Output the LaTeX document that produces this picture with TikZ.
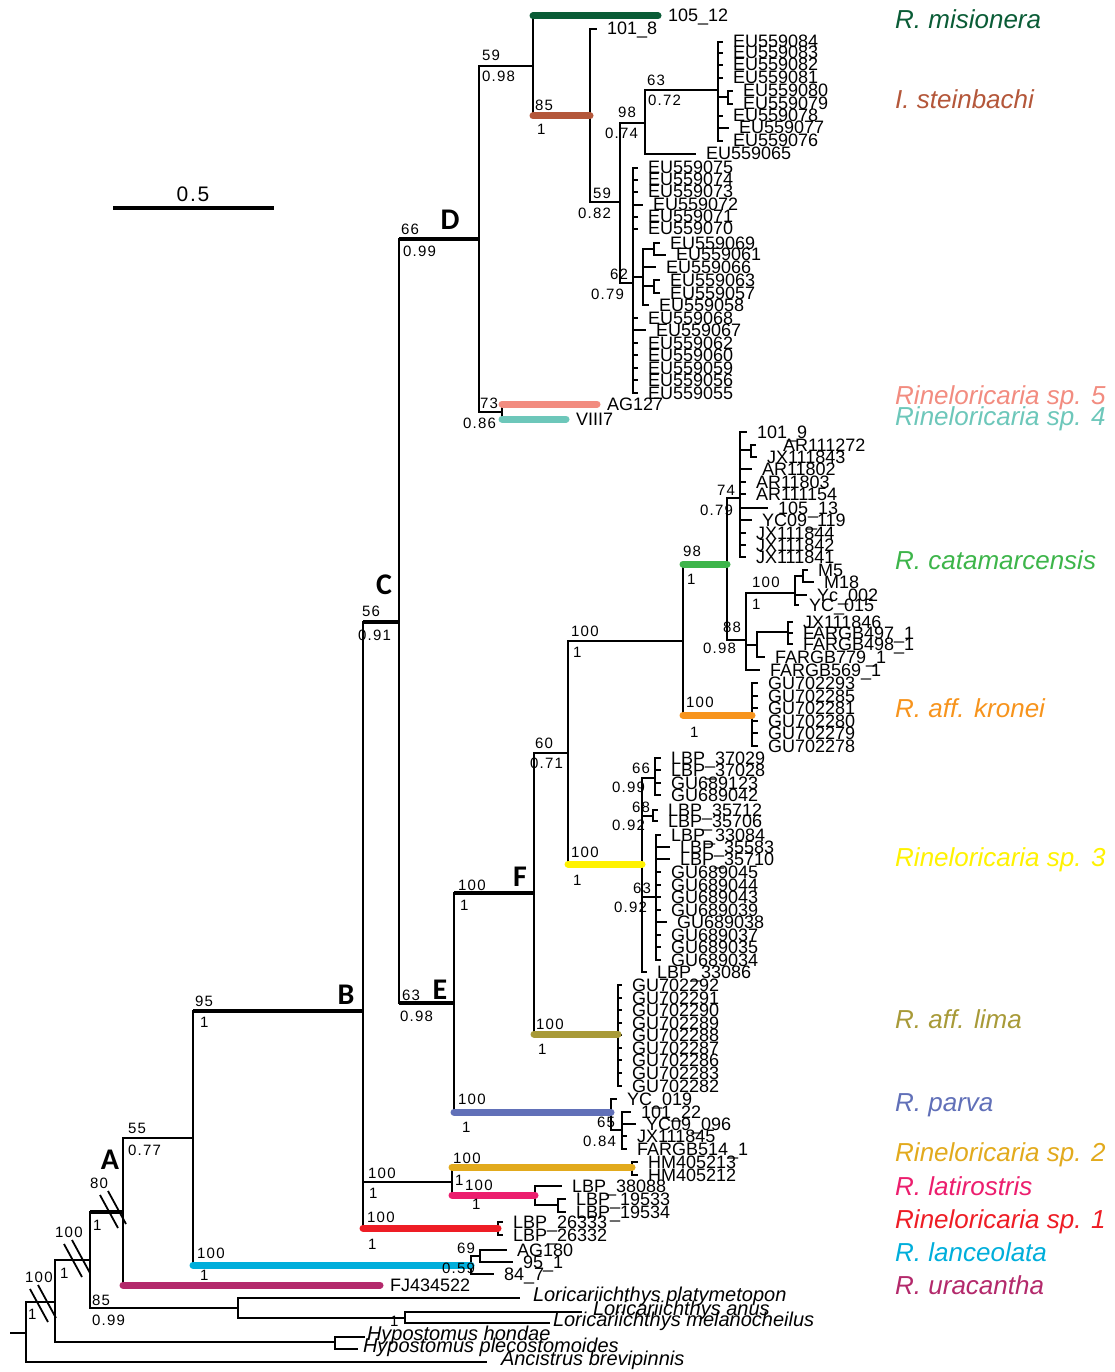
\documentclass[tikz,border=0pt]{standalone}
\usepackage{fontspec}
\setmainfont{Liberation Sans}
\newfontfamily\supfam[LetterSpace=8]{Liberation Sans}
\newfontfamily\letfam{Carlito}

\definecolor{cMis}{HTML}{0A5C36}
\definecolor{cSte}{HTML}{B4573A}
\definecolor{cSpf}{HTML}{F28C80}
\definecolor{cSpv}{HTML}{6DC7BA}
\definecolor{cCat}{HTML}{3DB54A}
\definecolor{cKro}{HTML}{F7941D}
\definecolor{cSpt}{HTML}{FFF200}
\definecolor{cLim}{HTML}{A89A38}
\definecolor{cPar}{HTML}{6170B8}
\definecolor{cSpd}{HTML}{E2AA1D}
\definecolor{cLat}{HTML}{EC1E6E}
\definecolor{cSpo}{HTML}{EE1D25}
\definecolor{cLan}{HTML}{00AEDB}
\definecolor{cUra}{HTML}{B3296B}

\begin{document}
\begin{tikzpicture}[
    x=1pt, y=-1pt,
    edge/.style={line width=1.8pt},
    stem/.style={line width=3.8pt},
    clade/.style={line width=7pt, line cap=round},
    brk/.style={line width=1.8pt},
    leaf/.style={anchor=west, inner sep=0pt, outer xsep=10pt, text height=12pt, text depth=0pt, font=\fontsize{18}{18}\selectfont},
    outg/.style={leaf, text height=6pt, font=\fontsize{20}{20}\selectfont\itshape},
    boot/.style={anchor=west, inner sep=0pt, text height=11pt, text depth=0pt, font=\supfam\fontsize{15}{15}\selectfont},
    big/.style={inner sep=0pt, font=\letfam\bfseries\fontsize{30}{30}\selectfont},
    spname/.style={anchor=west, inner sep=0pt, text height=18pt, text depth=0pt, font=\fontsize{26}{26}\selectfont\itshape}
]
\useasboundingbox (0,0) rectangle (1115,1372);

% Internal nodes
\coordinate (r0) at (10,1333);
\coordinate (nR) at (26,1333);
\coordinate (n55) at (55,1302);
\coordinate (nA) at (90,1260);
\coordinate (n123) at (123,1212);
\coordinate (n193) at (193,1138);
\coordinate (nB) at (363,1011);
\coordinate (nC) at (399,622);
\coordinate (nD) at (479,239);
\coordinate (nE) at (454,1003);
\coordinate (nF) at (534,893);
\coordinate (n59) at (533,66);
\coordinate (n85) at (590,116);
\coordinate (n59b) at (620,202);
\coordinate (n98) at (645,123);
\coordinate (n63a) at (718,90);
\coordinate (nb80) at (728,97);
\coordinate (n62) at (633,283);
\coordinate (nsub) at (643,277);
\coordinate (nb69) at (654,249);
\coordinate (nb63) at (654,286);
\coordinate (n73) at (502,412);
\coordinate (n60) at (568,753);
\coordinate (n100) at (683,641);
\coordinate (n98c) at (727,564);
\coordinate (n74) at (740,498);
\coordinate (nb72) at (751,450);
\coordinate (n88) at (746,640);
\coordinate (n100c) at (795,593);
\coordinate (nbM) at (803,576);
\coordinate (n757) at (757,645);
\coordinate (nbJ) at (788,632);
\coordinate (nK) at (752,715);
\coordinate (nY) at (642,864);
\coordinate (n66) at (655,778);
\coordinate (n68) at (653,816);
\coordinate (n63y) at (656,897);
\coordinate (nL) at (618,1034);
\coordinate (nP) at (611,1112);
\coordinate (n65) at (622,1130);
\coordinate (n452) at (452,1182);
\coordinate (nS2) at (632,1167);
\coordinate (n535) at (535,1195);
\coordinate (nb19) at (558,1205);
\coordinate (n498) at (498,1228);
\coordinate (n471) at (471,1265);
\coordinate (n480) at (480,1256);
\coordinate (n238) at (238,1308);
\coordinate (n405) at (405,1318);
\coordinate (n335) at (335,1342);

% Backbone
\draw[edge] (r0) -- (nR);
\draw[edge] (nR) |- (n55);
\draw[edge] (n55) |- (nA);
\draw[edge] (n55) |- (n335);
\draw[edge] (nA) |- (n123);
\draw[edge] (nA) |- (n238);
\draw[edge] (n123) |- (n193);
\draw[edge] (n193) |- (nB);
\draw[edge] (n193) |- (n471);
\draw[edge] (nB) |- (nC);
\draw[edge] (nB) |- (n452);
\draw[edge] (nB) |- (n498);
\draw[edge] (nC) |- (nD);
\draw[edge] (nC) |- (nE);
\draw[edge] (nD) |- (n59);
\draw[edge] (nD) |- (n73);
\draw[edge] (n59) |- (n85);
\draw[edge] (n85) |- (n59b);
\draw[edge] (n59b) |- (n98);
\draw[edge] (n59b) |- (n62);
\draw[edge] (n98) |- (n63a);
\draw[edge] (n63a) |- (nb80);
\draw[edge] (n62) |- (nsub);
\draw[edge] (nsub) |- (nb69);
\draw[edge] (nsub) |- (nb63);
\draw[edge] (nE) |- (nF);
\draw[edge] (nE) |- (nP);
\draw[edge] (nF) |- (n60);
\draw[edge] (nF) |- (nL);
\draw[edge] (n60) |- (n100);
\draw[edge] (n60) |- (nY);
\draw[edge] (n100) |- (n98c);
\draw[edge] (n100) |- (nK);
\draw[edge] (n98c) |- (n74);
\draw[edge] (n98c) |- (n88);
\draw[edge] (n74) |- (nb72);
\draw[edge] (n88) |- (n100c);
\draw[edge] (n88) |- (n757);
\draw[edge] (n100c) |- (nbM);
\draw[edge] (n757) |- (nbJ);
\draw[edge] (nY) |- (n66);
\draw[edge] (nY) |- (n68);
\draw[edge] (nY) |- (n63y);
\draw[edge] (nP) |- (n65);
\draw[edge] (n452) |- (nS2);
\draw[edge] (n452) |- (n535);
\draw[edge] (n535) |- (nb19);
\draw[edge] (n471) |- (n480);
\draw[edge] (n238) |- (n405);

% Thick labelled branches
\draw[stem] (nA |- n123) -- (n123);
\draw[stem] (n193 |- nB) -- (nB);
\draw[stem] (nB |- nC) -- (nC);
\draw[stem] (nC |- nD) -- (nD);
\draw[stem] (nC |- nE) -- (nE);
\draw[stem] (nE |- nF) -- (nF);

% Break marks
\coordinate (m1) at (42,1304);
\coordinate (m2) at (76,1259);
\coordinate (m3) at (112,1210);
\foreach \m in {m1,m2,m3} {
    \draw[brk] ([shift={(-12,-15)}]\m) -- ++(18,33);
    \draw[brk] ([shift={(-4,-19)}]\m) -- ++(18,33);
}

% Tips: clade D
\node[leaf] (t105) at (658,16) {105\_12};
\node[leaf] (t101) at (597,29) {101\_8};
\node[leaf] (t065) at (696,154) {EU559065};
\node[leaf] (tAG127) at (597,404) {AG127};
\node[leaf] (tVIII7) at (566,419) {VIII7};
\draw[edge] (n59) |- (t105);
\draw[edge] (n85) |- (t101);
\draw[edge] (n98) |- (t065);
\draw[edge] (n73) |- (tAG127);
\draw[edge] (n73) |- (tVIII7);
\foreach \lab/\yy/\ex [count=\i] in {EU559084/42/723, EU559083/53/723, EU559082/65/723, EU559081/78/723, EU559078/116/723, EU559077/128/729, EU559076/141/723} {
    \node[leaf] (ea\i) at (\ex,\yy) {\lab};
    \draw[edge] (n63a) |- (ea\i);
}
\foreach \lab/\yy/\ex [count=\i] in {EU559080/91/733, EU559079/104/733} {
    \node[leaf] (eb\i) at (\ex,\yy) {\lab};
    \draw[edge] (nb80) |- (eb\i);
}
\foreach \lab/\yy/\ex [count=\i] in {EU559075/168/638, EU559074/180/638, EU559073/192/638, EU559072/205/643, EU559071/217/638, EU559070/229/638, EU559068/318/638, EU559067/330/646, EU559062/343/638, EU559060/355/638, EU559059/368/638, EU559056/380/638, EU559055/393/638} {
    \node[leaf] (ec\i) at (\ex,\yy) {\lab};
    \draw[edge] (n62) |- (ec\i);
}
\foreach \lab/\yy/\ex [count=\i] in {EU559066/267/656, EU559058/305/649} {
    \node[leaf] (ed\i) at (\ex,\yy) {\lab};
    \draw[edge] (nsub) |- (ed\i);
}
\foreach \lab/\yy/\ex [count=\i] in {EU559069/243/660, EU559061/255/666} {
    \node[leaf] (ee\i) at (\ex,\yy) {\lab};
    \draw[edge] (nb69) |- (ee\i);
}
\foreach \lab/\yy/\ex [count=\i] in {EU559063/280/660, EU559057/293/660} {
    \node[leaf] (ef\i) at (\ex,\yy) {\lab};
    \draw[edge] (nb63) |- (ef\i);
}

% Tips: catamarcensis and kronei
\foreach \lab/\yy/\ex [count=\i] in {101\_9/432/747, AR11802/469/752, AR11803/482/746, AR111154/494/746, 105\_13/508/768, YC09\_119/520/752, JX111844/533/746, JX111842/545/746, JX111841/557/746} {
    \node[leaf] (ca\i) at (\ex,\yy) {\lab};
    \draw[edge] (n74) |- (ca\i);
}
\node[leaf, outer xsep=27pt] (cb1) at (756,445) {AR111272};
\node[leaf] (cb2) at (757,457) {JX111843};
\draw[edge] (nb72) |- (cb1);
\draw[edge] (nb72) |- (cb2);
\node[leaf] (cm1) at (808,570) {M5};
\node[leaf] (cm2) at (814,582) {M18};
\node[leaf] (cm3) at (807,595) {Yc\_002};
\node[leaf] (cm4) at (799,605) {YC\_015};
\draw[edge] (nbM) |- (cm1);
\draw[edge] (nbM) |- (cm2);
\draw[edge] (n100c) |- (cm3);
\draw[edge] (n100c) |- (cm4);
\foreach \lab/\yy [count=\i] in {JX111846/622, FARGB497\_1/633, FARGB498\_1/644} {
    \node[leaf] (cj\i) at (793,\yy) {\lab};
    \draw[edge] (nbJ) |- (cj\i);
}
\node[leaf] (tF779) at (765,657) {FARGB779\_1};
\node[leaf] (tF569) at (760,670) {FARGB569\_1};
\draw[edge] (n757) |- (tF779);
\draw[edge] (n88) |- (tF569);
\foreach \lab/\yy [count=\i] in {GU702293/683, GU702285/696, GU702281/708, GU702280/721, GU702279/733, GU702278/746} {
    \node[leaf] (ka\i) at (758,\yy) {\lab};
    \draw[edge] (nK) |- (ka\i);
}

% Tips: sp. 3
\foreach \lab/\yy [count=\i] in {LBP\_37029/758, LBP\_37028/770, GU689123/783, GU689042/795} {
    \node[leaf] (ya\i) at (661,\yy) {\lab};
    \draw[edge] (n66) |- (ya\i);
}
\foreach \lab/\yy [count=\i] in {LBP\_35712/810, LBP\_35706/821} {
    \node[leaf] (yb\i) at (658,\yy) {\lab};
    \draw[edge] (n68) |- (yb\i);
}
\foreach \lab/\yy/\ex [count=\i] in {LBP\_33084/835/661, LBP\_35583/847/670, LBP\_35710/859/670, GU689045/872/661, GU689044/885/661, GU689043/897/661, GU689039/910/661, GU689038/922/667, GU689037/935/661, GU689035/947/661, GU689034/960/661} {
    \node[leaf] (yc\i) at (\ex,\yy) {\lab};
    \draw[edge] (n63y) |- (yc\i);
}
\node[leaf] (tL086) at (647,972) {LBP\_33086};
\draw[edge] (nY) |- (tL086);

% Tips: aff. lima and parva
\foreach \lab/\yy [count=\i] in {GU702292/985, GU702291/998, GU702290/1010, GU702289/1023, GU702288/1035, GU702287/1048, GU702286/1060, GU702283/1073, GU702282/1086} {
    \node[leaf] (la\i) at (622,\yy) {\lab};
    \draw[edge] (nL) |- (la\i);
}
\node[leaf] (tYC019) at (617,1099) {YC\_019};
\draw[edge] (nP) |- (tYC019);
\foreach \lab/\yy/\ex [count=\i] in {101\_22/1112/631, YC09\_096/1124/636, JX111845/1136/627, FARGB514\_1/1149/627} {
    \node[leaf] (pa\i) at (\ex,\yy) {\lab};
    \draw[edge] (n65) |- (pa\i);
}

% Tips: lower clades
\node[leaf] (hm1) at (638,1162) {HM405213};
\node[leaf] (hm2) at (638,1175) {HM405212};
\draw[edge] (nS2) |- (hm1);
\draw[edge] (nS2) |- (hm2);
\node[leaf] (tL088) at (562,1186) {LBP\_38088};
\node[leaf] (lt1) at (566,1199) {LBP\_19533};
\node[leaf] (lt2) at (566,1212) {LBP\_19534};
\draw[edge] (n535) |- (tL088);
\draw[edge] (nb19) |- (lt1);
\draw[edge] (nb19) |- (lt2);
\node[leaf] (so1) at (503,1222) {LBP\_26333};
\node[leaf] (so2) at (503,1235) {LBP\_26332};
\draw[edge] (n498) |- (so1);
\draw[edge] (n498) |- (so2);
\node[leaf] (lc1) at (507,1250) {AG180};
\node[leaf] (lc2) at (513,1262) {95\_1};
\node[leaf] (t847) at (494,1274) {84\_7};
\draw[edge] (n480) |- (lc1);
\draw[edge] (n480) |- (lc2);
\draw[edge] (n471) |- (t847);
\node[leaf] (tFJ) at (380,1285) {FJ434522};
\draw[edge] (n123) |- (tFJ);

% Outgroups
\node[outg, outer xsep=13pt] (tPla) at (520,1298) {Loricariichthys platymetopon};
\node[outg, outer xsep=11pt] (tAnu) at (582,1312) {Loricariichthys anus};
\node[outg, outer xsep=3pt] (tMel) at (550,1323) {Loricariichthys melanocheilus};
\node[outg, outer xsep=2pt] (tHon) at (365,1337) {Hypostomus hondae};
\node[outg, outer xsep=5pt] (tPle) at (358,1349) {Hypostomus plecostomoides};
\node[outg, outer xsep=14pt] (tAnc) at (487,1362) {Ancistrus brevipinnis};
\draw[edge] (n238) |- (tPla);
\draw[edge] (n405) |- (tAnu);
\draw[edge] (n405) |- (tMel);
\draw[edge] (n335) |- (tHon);
\draw[edge] (n335) |- (tPle);
\draw[edge] (nR) |- (tAnc);

% Coloured species branches
\draw[clade, cMis] (n59 |- t105) -- (t105);
\draw[clade, cSte] (n59 |- n85) -- (n85);
\draw[clade, cSpf] (n73 |- tAG127) -- (tAG127);
\draw[clade, cSpv] (n73 |- tVIII7) -- (tVIII7);
\draw[clade, cCat] (n100 |- n98c) -- (n98c);
\draw[clade, cKro] (n100 |- nK) -- (nK);
\draw[clade, cSpt] (n60 |- nY) -- (nY);
\draw[clade, cLim] (nF |- nL) -- (nL);
\draw[clade, cPar] (nE |- nP) -- (nP);
\draw[clade, cSpd] (n452 |- nS2) -- (nS2);
\draw[clade, cLat] (n452 |- n535) -- (n535);
\draw[clade, cSpo] (nB |- n498) -- (n498);
\draw[clade, cLan] (n193 |- n471) -- (n471);
\draw[clade, cUra] (n123 |- tFJ) -- (tFJ);

% Support values: bootstrap above, posterior below
\foreach \x/\y/\txt [count=\i] in {482/55/59, 482/76/0.98, 535/105/85, 537/129/1, 593/193/59, 578/213/0.82, 618/112/98, 605/133/0.74, 647/80/63, 648/100/0.72, 610/274/62, 591/294/0.79, 401/229/66, 403/251/0.99, 480/403/73, 463/423/0.86, 362/611/56, 358/635/0.91, 571/631/100, 573/652/1, 683/551/98, 687/579/1, 717/490/74, 700/510/0.79, 752/582/100, 752/604/1, 723/627/88, 703/648/0.98, 686/702/100, 690/732/1, 535/743/60, 530/763/0.71, 632/768/66, 612/787/0.99, 632/807/68, 612/825/0.92, 571/852/100, 573/880/1, 633/888/63, 614/907/0.92, 458/885/100, 460/905/1, 402/995/63, 400/1016/0.98, 536/1024/100, 538/1049/1, 458/1099/100, 462/1127/1, 597/1122/65, 583/1141/0.84, 195/1001/95, 200/1022/1, 368/1173/100, 369/1193/1, 453/1158/100, 455/1180/1, 465/1185/100, 472/1204/1, 367/1217/100, 368/1244/1, 457/1248/69, 442/1268/0.59, 197/1253/100, 200/1275/1, 128/1128/55, 128/1150/0.77, 90/1183/80, 93/1225/1, 55/1232/100, 60/1273/1, 25/1277/100, 28/1314/1, 92/1300/85, 92/1320/0.99, 390/1321/1}
    \node[boot] (s\i) at (\x,\y) {\txt};

% Clade letters
\node[big] (lA) at (110,1160) {A};
\node[big] (lB) at (346,995) {B};
\node[big] (lC) at (384,585) {C};
\node[big] (lD) at (450,220) {D};
\node[big] (lE) at (440,990) {E};
\node[big] (lF) at (520,877) {F};

% Scale bar
\coordinate (sbl) at (113,208);
\coordinate (sbr) at (274,208);
\draw[stem] (sbl) -- (sbr);
\node[inner sep=0pt, font=\supfam\fontsize{21}{21}\selectfont] (sblab) at (193,194) {0.5};

% Species names
\foreach \nm/\yy/\col [count=\i] in {R. misionera/20/cMis, I. steinbachi/100/cSte, Rineloricaria sp. 5/395/cSpf, Rineloricaria sp. 4/416/cSpv, R. catamarcensis/560/cCat, R. aff. kronei/708/cKro, Rineloricaria sp. 3/857/cSpt, R. aff. lima/1019/cLim, R. parva/1102/cPar, Rineloricaria sp. 2/1152/cSpd, R. latirostris/1186/cLat, Rineloricaria sp. 1/1219/cSpo, R. lanceolata/1252/cLan, R. uracantha/1285/cUra}
    \node[spname, text=\col] (sp\i) at (895,\yy) {\nm};

\end{tikzpicture}
\end{document}
